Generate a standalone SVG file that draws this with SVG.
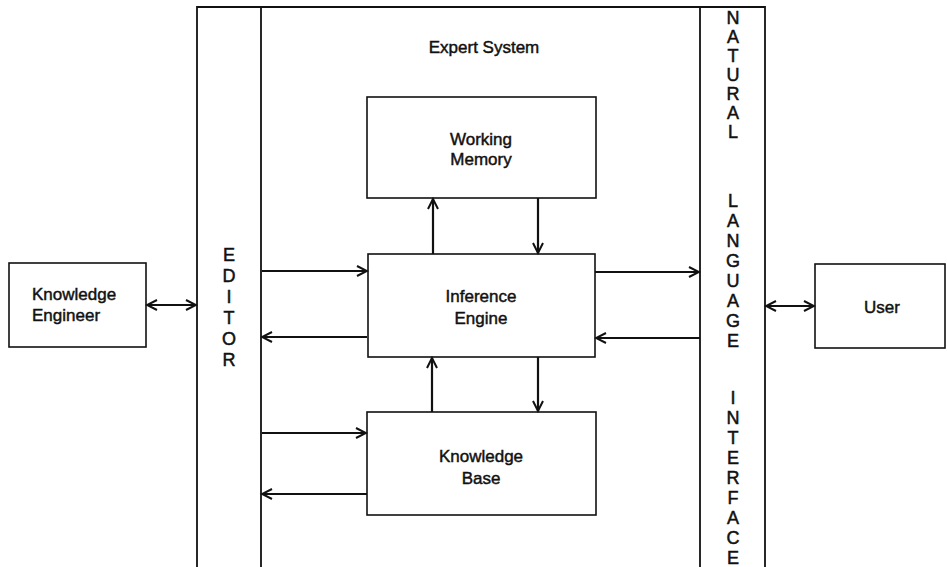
<svg xmlns="http://www.w3.org/2000/svg" width="947" height="567" viewBox="0 0 947 567">
<defs>
<style>
.box{fill:#fff;stroke:#111;stroke-width:1.6}
.frame{fill:none;stroke:#111;stroke-width:1.8}
.conn line{stroke:#111;stroke-width:2.2;fill:none}
.t{font-family:"Liberation Sans",Arial,sans-serif;font-size:17px;fill:#111;stroke:#111;stroke-width:0.45;text-anchor:middle}
.col{font-family:"Liberation Sans",Arial,sans-serif;font-size:18px;fill:#111;stroke:#111;stroke-width:0.5;text-anchor:middle}
</style>
<marker id="ah" viewBox="-2 -2 14 14" refX="10" refY="5" markerWidth="14" markerHeight="14" markerUnits="userSpaceOnUse" orient="auto-start-reverse">
<path d="M0,0 L10,5 L0,10" fill="none" stroke="#111" stroke-width="2"/>
</marker>
</defs>
<rect width="947" height="567" fill="#fff"/>

<g id="frame">
<path class="frame" d="M197,567 V7 H765 V567 M261,7 V567 M700,7 V567"/>
<text class="t" x="484" y="53">Expert System</text>
</g>

<g id="editor">
<text class="col" x="229" y="261">E</text>
<text class="col" x="229" y="282">D</text>
<text class="col" x="229" y="303">I</text>
<text class="col" x="229" y="324">T</text>
<text class="col" x="229" y="345">O</text>
<text class="col" x="229" y="366">R</text>
</g>

<g id="nli">
<text class="col" x="733" y="24">N</text>
<text class="col" x="733" y="43">A</text>
<text class="col" x="733" y="62">T</text>
<text class="col" x="733" y="81">U</text>
<text class="col" x="733" y="100">R</text>
<text class="col" x="733" y="119">A</text>
<text class="col" x="733" y="138">L</text>
<text class="col" x="733" y="207">L</text>
<text class="col" x="733" y="227">A</text>
<text class="col" x="733" y="247">N</text>
<text class="col" x="733" y="267">G</text>
<text class="col" x="733" y="287">U</text>
<text class="col" x="733" y="307">A</text>
<text class="col" x="733" y="327">G</text>
<text class="col" x="733" y="347">E</text>
<text class="col" x="733" y="404">I</text>
<text class="col" x="733" y="424">N</text>
<text class="col" x="733" y="444">T</text>
<text class="col" x="733" y="464">E</text>
<text class="col" x="733" y="484">R</text>
<text class="col" x="733" y="504">F</text>
<text class="col" x="733" y="524">A</text>
<text class="col" x="733" y="544">C</text>
<text class="col" x="733" y="564">E</text>
</g>

<g id="working-memory">
<rect class="box" x="367" y="97" width="229" height="101"/>
<text class="t" x="481" y="145">Working</text>
<text class="t" x="481" y="165">Memory</text>
</g>

<g id="inference-engine">
<rect class="box" x="368" y="254" width="227" height="103"/>
<text class="t" x="481" y="302">Inference</text>
<text class="t" x="481" y="324">Engine</text>
</g>

<g id="knowledge-base">
<rect class="box" x="367" y="412" width="229" height="103"/>
<text class="t" x="481" y="462">Knowledge</text>
<text class="t" x="481" y="484">Base</text>
</g>

<g id="knowledge-engineer">
<rect class="box" x="9" y="263" width="137" height="84"/>
<text class="t" x="32" y="300" style="text-anchor:start">Knowledge</text>
<text class="t" x="32" y="321" style="text-anchor:start">Engineer</text>
</g>

<g id="user">
<rect class="box" x="815" y="264" width="130" height="84"/>
<text class="t" x="882" y="313">User</text>
</g>

<g class="conn" id="connectors">
<line x1="147" y1="305" x2="196" y2="305" marker-start="url(#ah)" marker-end="url(#ah)"/>
<line x1="262" y1="271" x2="367" y2="271" marker-end="url(#ah)"/>
<line x1="367" y1="337" x2="262" y2="337" marker-end="url(#ah)"/>
<line x1="262" y1="433" x2="366" y2="433" marker-end="url(#ah)"/>
<line x1="367" y1="494" x2="262" y2="494" marker-end="url(#ah)"/>
<line x1="433" y1="254" x2="433" y2="199" marker-end="url(#ah)"/>
<line x1="538" y1="198" x2="538" y2="253" marker-end="url(#ah)"/>
<line x1="432" y1="412" x2="432" y2="358" marker-end="url(#ah)"/>
<line x1="538" y1="357" x2="538" y2="411" marker-end="url(#ah)"/>
<line x1="595" y1="272" x2="699" y2="272" marker-end="url(#ah)"/>
<line x1="700" y1="338" x2="596" y2="338" marker-end="url(#ah)"/>
<line x1="766" y1="306" x2="814" y2="306" marker-start="url(#ah)" marker-end="url(#ah)"/>
</g>
</svg>
